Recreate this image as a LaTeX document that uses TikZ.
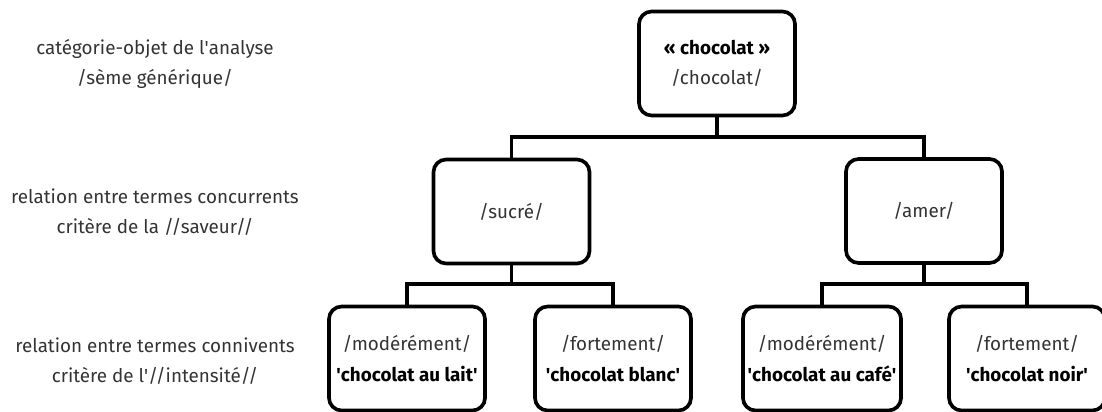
\documentclass[tikz,border=0pt]{standalone}
\usepackage{fontspec}
\setmainfont{Fira Sans}
\usepackage{tikz}
\definecolor{semegray}{HTML}{333333}
\tikzset{
  semebox/.style={rectangle, rounded corners=9pt, draw=black, line width=2.6pt,
                  minimum width=3.9cm, minimum height=2.6cm, align=center,
                  text=semegray, font=\fontsize{13.4}{21.5}\selectfont},
  levellabel/.style={align=center, text=semegray, font=\fontsize{13.4}{21}\selectfont},
  branch/.style={draw, line width=2.6pt}
}
\newcommand{\lexeme}[1]{{\color{black}\bfseries\textquotesingle#1\textquotesingle}}

\begin{document}
\begin{tikzpicture}[x=0.025cm,y=-0.025cm]
  \useasboundingbox (0,0) rectangle (1102,412);

  % Draw level labels on the left.
  \node[levellabel] (lab1) at (155,64) {catégorie-objet de l\textquotesingle analyse\\/sème générique/};
  \node[levellabel] (lab2) at (155,212) {relation entre termes concurrents\\critère de la //saveur//};
  \node[levellabel] (lab3) at (155,361) {relation entre termes connivents\\critère de l\textquotesingle//intensité//};

  % Draw the boxes of the tree.
  \node[semebox] (top) at (717,63.5) {{\color{black}\bfseries « chocolat »}\\/chocolat/};
  \node[semebox] (sucre) at (511.5,211.5) {/sucré/};
  \node[semebox] (amer) at (924,211) {/amer/};
  \node[semebox] (lait) at (407,358.5) {/modérément/\\\lexeme{chocolat au lait}};
  \node[semebox] (blanc) at (613,358.5) {/fortement/\\\lexeme{chocolat blanc}};
  \node[semebox] (cafe) at (822,358.5) {/modérément/\\\lexeme{chocolat au café}};
  \node[semebox] (noir) at (1027,358.5) {/fortement/\\\lexeme{chocolat noir}};

  % Junctions of the branches.
  \coordinate (j1) at (717,137);
  \coordinate (j2) at (511.5,284);
  \coordinate (j3) at (924,284);

  % Draw the branches.
  \draw[branch] (top.south) -- (j1);
  \draw[branch] (sucre.north) |- (j1) -| (amer.north);
  \draw[branch] (sucre.south) -- (j2);
  \draw[branch] (lait.north) |- (j2) -| (blanc.north);
  \draw[branch] (amer.south) -- (j3);
  \draw[branch] (cafe.north) |- (j3) -| (noir.north);
\end{tikzpicture}
\end{document}
